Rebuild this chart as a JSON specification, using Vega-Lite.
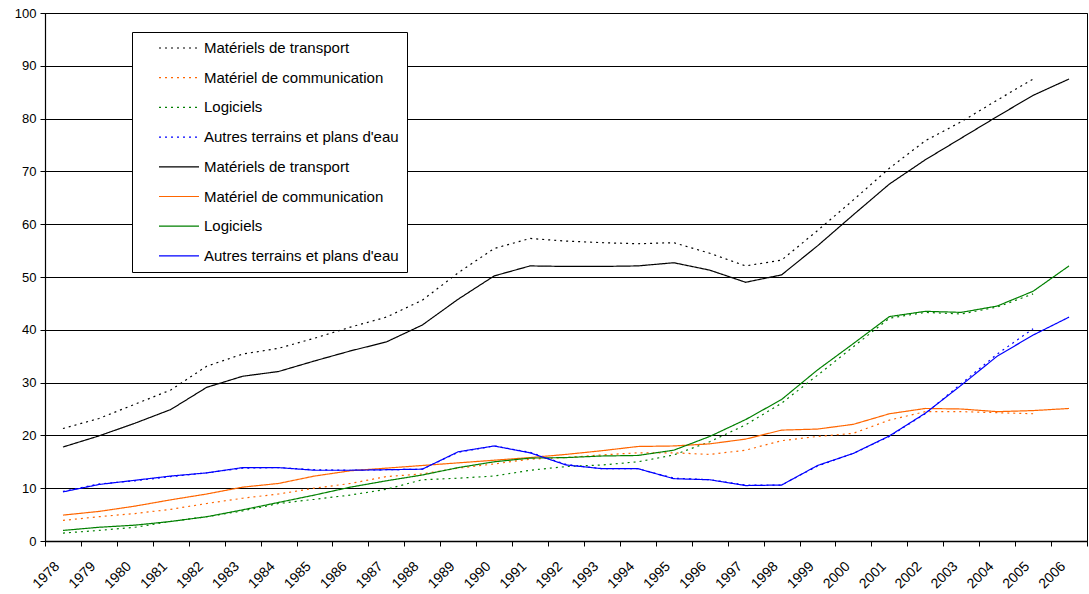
{
  "$schema": "https://vega.github.io/schema/vega-lite/v6.json",
  "width": 1042,
  "height": 528,
  "autosize": "none",
  "padding": {"left": 45, "top": 13, "right": 2, "bottom": 53},
  "background": "white",
  "config": {
    "font": "Liberation Sans",
    "view": {"stroke": "#000", "strokeWidth": 1},
    "axis": {"labelFont": "Liberation Sans", "labelColor": "#000", "domainColor": "#000", "tickColor": "#000", "labelFontSize": 13}
  },
  "datasets": {
    "series": [
      {"annee":"1978","serie":"A|Matériels de transport","v":21.3},
      {"annee":"1979","serie":"A|Matériels de transport","v":23.2},
      {"annee":"1980","serie":"A|Matériels de transport","v":25.9},
      {"annee":"1981","serie":"A|Matériels de transport","v":28.6},
      {"annee":"1982","serie":"A|Matériels de transport","v":33.1},
      {"annee":"1983","serie":"A|Matériels de transport","v":35.4},
      {"annee":"1984","serie":"A|Matériels de transport","v":36.5},
      {"annee":"1985","serie":"A|Matériels de transport","v":38.4},
      {"annee":"1986","serie":"A|Matériels de transport","v":40.5},
      {"annee":"1987","serie":"A|Matériels de transport","v":42.4},
      {"annee":"1988","serie":"A|Matériels de transport","v":45.6},
      {"annee":"1989","serie":"A|Matériels de transport","v":50.8},
      {"annee":"1990","serie":"A|Matériels de transport","v":55.4},
      {"annee":"1991","serie":"A|Matériels de transport","v":57.3},
      {"annee":"1992","serie":"A|Matériels de transport","v":56.8},
      {"annee":"1993","serie":"A|Matériels de transport","v":56.5},
      {"annee":"1994","serie":"A|Matériels de transport","v":56.3},
      {"annee":"1995","serie":"A|Matériels de transport","v":56.5},
      {"annee":"1996","serie":"A|Matériels de transport","v":54.5},
      {"annee":"1997","serie":"A|Matériels de transport","v":52.1},
      {"annee":"1998","serie":"A|Matériels de transport","v":53.2},
      {"annee":"1999","serie":"A|Matériels de transport","v":58.8},
      {"annee":"2000","serie":"A|Matériels de transport","v":64.6},
      {"annee":"2001","serie":"A|Matériels de transport","v":70.6},
      {"annee":"2002","serie":"A|Matériels de transport","v":75.8},
      {"annee":"2003","serie":"A|Matériels de transport","v":79.4},
      {"annee":"2004","serie":"A|Matériels de transport","v":83.5},
      {"annee":"2005","serie":"A|Matériels de transport","v":87.5},

      {"annee":"1978","serie":"A|Matériel de communication","v":3.9},
      {"annee":"1979","serie":"A|Matériel de communication","v":4.6},
      {"annee":"1980","serie":"A|Matériel de communication","v":5.2},
      {"annee":"1981","serie":"A|Matériel de communication","v":6.0},
      {"annee":"1982","serie":"A|Matériel de communication","v":7.1},
      {"annee":"1983","serie":"A|Matériel de communication","v":8.1},
      {"annee":"1984","serie":"A|Matériel de communication","v":8.9},
      {"annee":"1985","serie":"A|Matériel de communication","v":10.0},
      {"annee":"1986","serie":"A|Matériel de communication","v":10.9},
      {"annee":"1987","serie":"A|Matériel de communication","v":12.2},
      {"annee":"1988","serie":"A|Matériel de communication","v":12.7},
      {"annee":"1989","serie":"A|Matériel de communication","v":13.8},
      {"annee":"1990","serie":"A|Matériel de communication","v":14.6},
      {"annee":"1991","serie":"A|Matériel de communication","v":15.5},
      {"annee":"1992","serie":"A|Matériel de communication","v":15.8},
      {"annee":"1993","serie":"A|Matériel de communication","v":16.3},
      {"annee":"1994","serie":"A|Matériel de communication","v":16.7},
      {"annee":"1995","serie":"A|Matériel de communication","v":16.7},
      {"annee":"1996","serie":"A|Matériel de communication","v":16.4},
      {"annee":"1997","serie":"A|Matériel de communication","v":17.2},
      {"annee":"1998","serie":"A|Matériel de communication","v":19.0},
      {"annee":"1999","serie":"A|Matériel de communication","v":19.8},
      {"annee":"2000","serie":"A|Matériel de communication","v":20.4},
      {"annee":"2001","serie":"A|Matériel de communication","v":22.9},
      {"annee":"2002","serie":"A|Matériel de communication","v":24.5},
      {"annee":"2003","serie":"A|Matériel de communication","v":24.5},
      {"annee":"2004","serie":"A|Matériel de communication","v":24.3},
      {"annee":"2005","serie":"A|Matériel de communication","v":24.1},

      {"annee":"1978","serie":"A|Logiciels","v":1.5},
      {"annee":"1979","serie":"A|Logiciels","v":2.0},
      {"annee":"1980","serie":"A|Logiciels","v":2.6},
      {"annee":"1981","serie":"A|Logiciels","v":3.7},
      {"annee":"1982","serie":"A|Logiciels","v":4.6},
      {"annee":"1983","serie":"A|Logiciels","v":5.7},
      {"annee":"1984","serie":"A|Logiciels","v":7.1},
      {"annee":"1985","serie":"A|Logiciels","v":7.9},
      {"annee":"1986","serie":"A|Logiciels","v":8.7},
      {"annee":"1987","serie":"A|Logiciels","v":9.8},
      {"annee":"1988","serie":"A|Logiciels","v":11.6},
      {"annee":"1989","serie":"A|Logiciels","v":11.9},
      {"annee":"1990","serie":"A|Logiciels","v":12.3},
      {"annee":"1991","serie":"A|Logiciels","v":13.4},
      {"annee":"1992","serie":"A|Logiciels","v":14.1},
      {"annee":"1993","serie":"A|Logiciels","v":14.4},
      {"annee":"1994","serie":"A|Logiciels","v":15.0},
      {"annee":"1995","serie":"A|Logiciels","v":16.3},
      {"annee":"1996","serie":"A|Logiciels","v":18.8},
      {"annee":"1997","serie":"A|Logiciels","v":22.0},
      {"annee":"1998","serie":"A|Logiciels","v":26.1},
      {"annee":"1999","serie":"A|Logiciels","v":31.4},
      {"annee":"2000","serie":"A|Logiciels","v":36.8},
      {"annee":"2001","serie":"A|Logiciels","v":42.2},
      {"annee":"2002","serie":"A|Logiciels","v":43.3},
      {"annee":"2003","serie":"A|Logiciels","v":43.0},
      {"annee":"2004","serie":"A|Logiciels","v":44.3},
      {"annee":"2005","serie":"A|Logiciels","v":46.8},

      {"annee":"1978","serie":"A|Autres terrains et plans d'eau","v":9.4},
      {"annee":"1979","serie":"A|Autres terrains et plans d'eau","v":10.8},
      {"annee":"1980","serie":"A|Autres terrains et plans d'eau","v":11.4},
      {"annee":"1981","serie":"A|Autres terrains et plans d'eau","v":12.2},
      {"annee":"1982","serie":"A|Autres terrains et plans d'eau","v":12.9},
      {"annee":"1983","serie":"A|Autres terrains et plans d'eau","v":13.8},
      {"annee":"1984","serie":"A|Autres terrains et plans d'eau","v":13.9},
      {"annee":"1985","serie":"A|Autres terrains et plans d'eau","v":13.5},
      {"annee":"1986","serie":"A|Autres terrains et plans d'eau","v":13.4},
      {"annee":"1987","serie":"A|Autres terrains et plans d'eau","v":13.5},
      {"annee":"1988","serie":"A|Autres terrains et plans d'eau","v":13.6},
      {"annee":"1989","serie":"A|Autres terrains et plans d'eau","v":16.8},
      {"annee":"1990","serie":"A|Autres terrains et plans d'eau","v":18.0},
      {"annee":"1991","serie":"A|Autres terrains et plans d'eau","v":16.8},
      {"annee":"1992","serie":"A|Autres terrains et plans d'eau","v":14.5},
      {"annee":"1993","serie":"A|Autres terrains et plans d'eau","v":13.7},
      {"annee":"1994","serie":"A|Autres terrains et plans d'eau","v":13.7},
      {"annee":"1995","serie":"A|Autres terrains et plans d'eau","v":11.9},
      {"annee":"1996","serie":"A|Autres terrains et plans d'eau","v":11.6},
      {"annee":"1997","serie":"A|Autres terrains et plans d'eau","v":10.6},
      {"annee":"1998","serie":"A|Autres terrains et plans d'eau","v":10.6},
      {"annee":"1999","serie":"A|Autres terrains et plans d'eau","v":14.2},
      {"annee":"2000","serie":"A|Autres terrains et plans d'eau","v":16.6},
      {"annee":"2001","serie":"A|Autres terrains et plans d'eau","v":19.8},
      {"annee":"2002","serie":"A|Autres terrains et plans d'eau","v":24.1},
      {"annee":"2003","serie":"A|Autres terrains et plans d'eau","v":29.8},
      {"annee":"2004","serie":"A|Autres terrains et plans d'eau","v":35.4},
      {"annee":"2005","serie":"A|Autres terrains et plans d'eau","v":40.2},

      {"annee":"1978","serie":"B|Matériels de transport","v":17.8},
      {"annee":"1979","serie":"B|Matériels de transport","v":19.9},
      {"annee":"1980","serie":"B|Matériels de transport","v":22.3},
      {"annee":"1981","serie":"B|Matériels de transport","v":24.9},
      {"annee":"1982","serie":"B|Matériels de transport","v":29.1},
      {"annee":"1983","serie":"B|Matériels de transport","v":31.2},
      {"annee":"1984","serie":"B|Matériels de transport","v":32.1},
      {"annee":"1985","serie":"B|Matériels de transport","v":34.1},
      {"annee":"1986","serie":"B|Matériels de transport","v":36.0},
      {"annee":"1987","serie":"B|Matériels de transport","v":37.7},
      {"annee":"1988","serie":"B|Matériels de transport","v":40.9},
      {"annee":"1989","serie":"B|Matériels de transport","v":45.8},
      {"annee":"1990","serie":"B|Matériels de transport","v":50.2},
      {"annee":"1991","serie":"B|Matériels de transport","v":52.1},
      {"annee":"1992","serie":"B|Matériels de transport","v":52.0},
      {"annee":"1993","serie":"B|Matériels de transport","v":52.0},
      {"annee":"1994","serie":"B|Matériels de transport","v":52.1},
      {"annee":"1995","serie":"B|Matériels de transport","v":52.7},
      {"annee":"1996","serie":"B|Matériels de transport","v":51.3},
      {"annee":"1997","serie":"B|Matériels de transport","v":49.0},
      {"annee":"1998","serie":"B|Matériels de transport","v":50.4},
      {"annee":"1999","serie":"B|Matériels de transport","v":55.9},
      {"annee":"2000","serie":"B|Matériels de transport","v":61.8},
      {"annee":"2001","serie":"B|Matériels de transport","v":67.6},
      {"annee":"2002","serie":"B|Matériels de transport","v":72.2},
      {"annee":"2003","serie":"B|Matériels de transport","v":76.3},
      {"annee":"2004","serie":"B|Matériels de transport","v":80.4},
      {"annee":"2005","serie":"B|Matériels de transport","v":84.4},
      {"annee":"2006","serie":"B|Matériels de transport","v":87.5},

      {"annee":"1978","serie":"B|Matériel de communication","v":4.9},
      {"annee":"1979","serie":"B|Matériel de communication","v":5.6},
      {"annee":"1980","serie":"B|Matériel de communication","v":6.6},
      {"annee":"1981","serie":"B|Matériel de communication","v":7.8},
      {"annee":"1982","serie":"B|Matériel de communication","v":8.9},
      {"annee":"1983","serie":"B|Matériel de communication","v":10.2},
      {"annee":"1984","serie":"B|Matériel de communication","v":10.9},
      {"annee":"1985","serie":"B|Matériel de communication","v":12.3},
      {"annee":"1986","serie":"B|Matériel de communication","v":13.3},
      {"annee":"1987","serie":"B|Matériel de communication","v":13.8},
      {"annee":"1988","serie":"B|Matériel de communication","v":14.3},
      {"annee":"1989","serie":"B|Matériel de communication","v":14.8},
      {"annee":"1990","serie":"B|Matériel de communication","v":15.3},
      {"annee":"1991","serie":"B|Matériel de communication","v":15.8},
      {"annee":"1992","serie":"B|Matériel de communication","v":16.4},
      {"annee":"1993","serie":"B|Matériel de communication","v":17.1},
      {"annee":"1994","serie":"B|Matériel de communication","v":17.9},
      {"annee":"1995","serie":"B|Matériel de communication","v":18.0},
      {"annee":"1996","serie":"B|Matériel de communication","v":18.4},
      {"annee":"1997","serie":"B|Matériel de communication","v":19.3},
      {"annee":"1998","serie":"B|Matériel de communication","v":21.0},
      {"annee":"1999","serie":"B|Matériel de communication","v":21.2},
      {"annee":"2000","serie":"B|Matériel de communication","v":22.1},
      {"annee":"2001","serie":"B|Matériel de communication","v":24.1},
      {"annee":"2002","serie":"B|Matériel de communication","v":25.1},
      {"annee":"2003","serie":"B|Matériel de communication","v":25.0},
      {"annee":"2004","serie":"B|Matériel de communication","v":24.5},
      {"annee":"2005","serie":"B|Matériel de communication","v":24.7},
      {"annee":"2006","serie":"B|Matériel de communication","v":25.1},

      {"annee":"1978","serie":"B|Logiciels","v":2.0},
      {"annee":"1979","serie":"B|Logiciels","v":2.6},
      {"annee":"1980","serie":"B|Logiciels","v":3.0},
      {"annee":"1981","serie":"B|Logiciels","v":3.7},
      {"annee":"1982","serie":"B|Logiciels","v":4.6},
      {"annee":"1983","serie":"B|Logiciels","v":5.9},
      {"annee":"1984","serie":"B|Logiciels","v":7.3},
      {"annee":"1985","serie":"B|Logiciels","v":8.7},
      {"annee":"1986","serie":"B|Logiciels","v":10.2},
      {"annee":"1987","serie":"B|Logiciels","v":11.4},
      {"annee":"1988","serie":"B|Logiciels","v":12.5},
      {"annee":"1989","serie":"B|Logiciels","v":13.9},
      {"annee":"1990","serie":"B|Logiciels","v":15.0},
      {"annee":"1991","serie":"B|Logiciels","v":15.7},
      {"annee":"1992","serie":"B|Logiciels","v":15.8},
      {"annee":"1993","serie":"B|Logiciels","v":16.1},
      {"annee":"1994","serie":"B|Logiciels","v":16.2},
      {"annee":"1995","serie":"B|Logiciels","v":17.2},
      {"annee":"1996","serie":"B|Logiciels","v":19.8},
      {"annee":"1997","serie":"B|Logiciels","v":23.0},
      {"annee":"1998","serie":"B|Logiciels","v":26.8},
      {"annee":"1999","serie":"B|Logiciels","v":32.4},
      {"annee":"2000","serie":"B|Logiciels","v":37.4},
      {"annee":"2001","serie":"B|Logiciels","v":42.5},
      {"annee":"2002","serie":"B|Logiciels","v":43.5},
      {"annee":"2003","serie":"B|Logiciels","v":43.3},
      {"annee":"2004","serie":"B|Logiciels","v":44.5},
      {"annee":"2005","serie":"B|Logiciels","v":47.3},
      {"annee":"2006","serie":"B|Logiciels","v":52.1},

      {"annee":"1978","serie":"B|Autres terrains et plans d'eau","v":9.3},
      {"annee":"1979","serie":"B|Autres terrains et plans d'eau","v":10.7},
      {"annee":"1980","serie":"B|Autres terrains et plans d'eau","v":11.5},
      {"annee":"1981","serie":"B|Autres terrains et plans d'eau","v":12.3},
      {"annee":"1982","serie":"B|Autres terrains et plans d'eau","v":12.9},
      {"annee":"1983","serie":"B|Autres terrains et plans d'eau","v":13.9},
      {"annee":"1984","serie":"B|Autres terrains et plans d'eau","v":13.9},
      {"annee":"1985","serie":"B|Autres terrains et plans d'eau","v":13.4},
      {"annee":"1986","serie":"B|Autres terrains et plans d'eau","v":13.4},
      {"annee":"1987","serie":"B|Autres terrains et plans d'eau","v":13.5},
      {"annee":"1988","serie":"B|Autres terrains et plans d'eau","v":13.6},
      {"annee":"1989","serie":"B|Autres terrains et plans d'eau","v":16.9},
      {"annee":"1990","serie":"B|Autres terrains et plans d'eau","v":18.0},
      {"annee":"1991","serie":"B|Autres terrains et plans d'eau","v":16.7},
      {"annee":"1992","serie":"B|Autres terrains et plans d'eau","v":14.4},
      {"annee":"1993","serie":"B|Autres terrains et plans d'eau","v":13.7},
      {"annee":"1994","serie":"B|Autres terrains et plans d'eau","v":13.7},
      {"annee":"1995","serie":"B|Autres terrains et plans d'eau","v":11.8},
      {"annee":"1996","serie":"B|Autres terrains et plans d'eau","v":11.6},
      {"annee":"1997","serie":"B|Autres terrains et plans d'eau","v":10.5},
      {"annee":"1998","serie":"B|Autres terrains et plans d'eau","v":10.6},
      {"annee":"1999","serie":"B|Autres terrains et plans d'eau","v":14.3},
      {"annee":"2000","serie":"B|Autres terrains et plans d'eau","v":16.6},
      {"annee":"2001","serie":"B|Autres terrains et plans d'eau","v":19.9},
      {"annee":"2002","serie":"B|Autres terrains et plans d'eau","v":24.2},
      {"annee":"2003","serie":"B|Autres terrains et plans d'eau","v":29.5},
      {"annee":"2004","serie":"B|Autres terrains et plans d'eau","v":35.0},
      {"annee":"2005","serie":"B|Autres terrains et plans d'eau","v":39.0},
      {"annee":"2006","serie":"B|Autres terrains et plans d'eau","v":42.4}
    ]
  },
  "data": {"name": "series"},
  "mark": {"type": "line", "strokeWidth": 1.2},
  "encoding": {
    "x": {
      "field": "annee",
      "type": "ordinal",
      "scale": {"type": "band", "paddingInner": 0, "paddingOuter": 0},
      "axis": {
        "title": null,
        "labelAngle": -45,
        "labelAlign": "right",
        "labelBaseline": "top",
        "labelPadding": 13,
        "labelOffset": -11,
        "labelFontSize": 14,
        "tickBand": "extent",
        "tickSize": 5,
        "grid": false,
        "domainWidth": 1.5
      }
    },
    "y": {
      "field": "v",
      "type": "quantitative",
      "scale": {"domain": [0, 100], "nice": false},
      "axis": {
        "title": null,
        "values": [0,10,20,30,40,50,60,70,80,90,100],
        "grid": true,
        "gridColor": "#000",
        "gridOpacity": 1,
        "gridWidth": 1,
        "tickSize": 5,
        "labelPadding": 4,
        "domainWidth": 1.2
      }
    },
    "color": {
      "field": "serie",
      "type": "nominal",
      "scale": {
        "domain": ["A|Matériels de transport","A|Matériel de communication","A|Logiciels","A|Autres terrains et plans d'eau","B|Matériels de transport","B|Matériel de communication","B|Logiciels","B|Autres terrains et plans d'eau"],
        "range": ["#000000","#FF6600","#008000","#0000FF","#000000","#FF6600","#008000","#0000FF"]
      },
      "legend": {
        "title": null,
        "orient": "none",
        "legendX": 87,
        "legendY": 19,
        "labelExpr": "split(datum.label, '|')[1]",
        "labelFont": "Liberation Sans",
        "labelFontSize": 15,
        "labelColor": "#000",
        "labelOffset": 4,
        "labelLimit": 400,
        "symbolType": "stroke",
        "symbolSize": 1600,
        "symbolStrokeWidth": 1.2,
        "symbolOffset": 18,
        "clipHeight": 16,
        "rowPadding": 13.7,
        "padding": 8,
        "strokeColor": "#000",
        "fillColor": "#fff"
      }
    },
    "strokeDash": {
      "field": "serie",
      "type": "nominal",
      "scale": {
        "domain": ["A|Matériels de transport","A|Matériel de communication","A|Logiciels","A|Autres terrains et plans d'eau","B|Matériels de transport","B|Matériel de communication","B|Logiciels","B|Autres terrains et plans d'eau"],
        "range": [[2,4],[2,4],[2,4],[2,4],[1,0],[1,0],[1,0],[1,0]]
      }
    }
  }
}
